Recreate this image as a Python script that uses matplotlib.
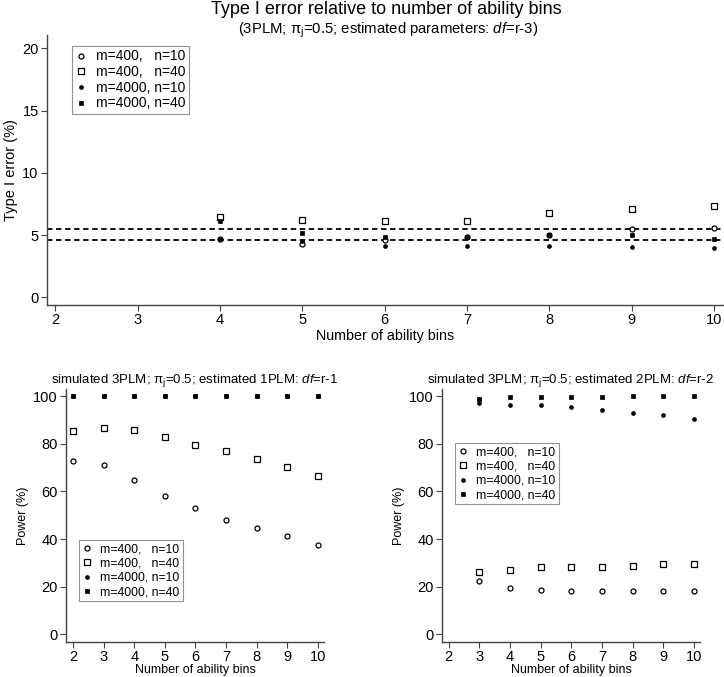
import matplotlib
matplotlib.use("Agg")
import matplotlib.pyplot as plt

plt.rcParams['font.family'] = ['Liberation Sans', 'DejaVu Sans']
plt.rcParams['mathtext.fontset'] = 'custom'
plt.rcParams['mathtext.rm'] = 'Liberation Sans'
plt.rcParams['mathtext.it'] = 'Liberation Sans:italic'

FONT = ['Liberation Sans', 'DejaVu Sans']

# ---- data ----
labels = ["m=400,   n=10", "m=400,   n=40", "m=4000, n=10", "m=4000, n=40"]

# type I error (top)
bins_top = [4, 5, 6, 7, 8, 9, 10]
t_m400_n10 = [4.7, 4.3, 4.6, 4.85, 5.0, 5.49, 5.54]
t_m400_n40 = [6.45, 6.2, 6.1, 6.1, 6.75, 7.1, 7.36]
t_m4000_n10 = [4.7, 4.5, 4.15, 4.15, 4.12, 4.07, 3.94]
t_m4000_n40 = [6.15, 5.2, 4.85, 4.85, 5.0, 5.0, 4.69]
ci_lines = [4.62, 5.48]

# power, estimated 1PLM (bottom left)
bins_1pl = [2, 3, 4, 5, 6, 7, 8, 9, 10]
p1_m400_n10 = [72.8, 71.2, 64.8, 58.1, 52.9, 48.1, 44.5, 41.2, 37.6]
p1_m400_n40 = [85.4, 86.8, 85.6, 82.7, 79.7, 76.9, 73.6, 70.1, 66.6]
p1_m4000_n10 = [100, 100, 100, 100, 100, 100, 100, 100, 100]
p1_m4000_n40 = [100, 100, 100, 100, 100, 100, 100, 100, 100]

# power, estimated 2PLM (bottom right)
bins_2pl = [3, 4, 5, 6, 7, 8, 9, 10]
p2_m400_n10 = [22.3, 19.4, 18.8, 18.0, 18.2, 18.1, 18.2, 18.2]
p2_m400_n40 = [26.1, 27.1, 28.1, 28.1, 28.3, 28.9, 29.5, 29.5]
p2_m4000_n10 = [97.2, 96.1, 96.4, 95.5, 94.2, 93.0, 92.0, 90.5]
p2_m4000_n40 = [98.8, 99.5, 99.7, 99.8, 99.8, 99.9, 99.9, 99.9]

styles = [
    dict(marker='o', mfc='white', mec='black', ms=3.6, mew=0.9),
    dict(marker='s', mfc='white', mec='black', ms=4.4, mew=0.9),
    dict(marker='o', mfc='black', mec='black', ms=2.8, mew=0.5),
    dict(marker='s', mfc='black', mec='black', ms=3.0, mew=0.5),
]

W, H = 724, 677
fig = plt.figure(figsize=(W / 100, H / 100), dpi=100)


def px_axes(x0, y0, x1, y1):
    return fig.add_axes([x0 / W, 1 - y1 / H, (x1 - x0) / W, (y1 - y0) / H])


def style_axes(ax, size):
    for s in ['top', 'right']:
        ax.spines[s].set_visible(False)
    for s in ['left', 'bottom']:
        ax.spines[s].set_color('#444444')
        ax.spines[s].set_linewidth(1.0)
    ax.tick_params(direction='out', length=4, width=0.8, color='#444444',
                   pad=2, labelsize=size)


def add_legend(ax, x, y, size, spacing):
    leg = ax.legend(loc='upper left', bbox_to_anchor=(x / W, 1 - y / H),
                    bbox_transform=fig.transFigure, frameon=True, fancybox=False,
                    edgecolor='#777777', borderpad=0.25, labelspacing=spacing,
                    handlelength=0.8, handletextpad=0.7, borderaxespad=0,
                    prop={'size': size})
    leg.get_frame().set_linewidth(0.8)


# ---- top panel ----
ax = px_axes(47, 35, 723, 305)
for ys, st, lab in zip([t_m400_n10, t_m400_n40, t_m4000_n10, t_m4000_n40], styles, labels):
    ax.plot(bins_top, ys, ls='none', label=lab, **st)
for v in ci_lines:
    ax.axhline(v, color='black', ls=(0, (3, 2)), lw=1.3, zorder=0)
ax.set_xlim(1.898, 10.11)
ax.set_ylim(-0.62, 21.07)
ax.set_xticks(range(2, 11))
ax.set_yticks([0, 5, 10, 15, 20])
style_axes(ax, 10.5)
ax.set_xlabel("Number of ability bins", fontsize=10.3, labelpad=1)
ax.set_ylabel("Type I error (%)", fontsize=10.5, labelpad=3)
add_legend(ax, 72, 46, 10, 0.12)

fig.text(386 / W, 1 - 10 / H, "Type I error relative to number of ability bins",
         ha='center', va='center', fontsize=13)
fig.text(388 / W, 1 - 30 / H,
         r"(3PLM; π$_\mathregular{j}$=0.5; estimated parameters: $\it{df}$=r-3)",
         ha='center', va='center', fontsize=10.7)

# ---- bottom left ----
ax = px_axes(66, 389, 324, 642)
for ys, st, lab in zip([p1_m400_n10, p1_m400_n40, p1_m4000_n10, p1_m4000_n40], styles, labels):
    ax.plot(bins_1pl, ys, ls='none', label=lab, **st)
ax.set_xlim(1.77, 10.2)
ax.set_ylim(-3.2, 103)
ax.set_xticks(range(2, 11))
ax.set_yticks(range(0, 101, 20))
style_axes(ax, 10.5)
ax.set_xlabel("Number of ability bins", fontsize=9, labelpad=0)
ax.set_ylabel("Power (%)", fontsize=9, labelpad=3)
ax.set_title(r"simulated 3PLM; π$_\mathregular{j}$=0.5; estimated 1PLM: $\it{df}$=r-1",
             fontsize=9.5, pad=4)
add_legend(ax, 79, 540, 8.8, 0.2)

# ---- bottom right ----
ax = px_axes(442, 389, 700, 642)
for ys, st, lab in zip([p2_m400_n10, p2_m400_n40, p2_m4000_n10, p2_m4000_n40], styles, labels):
    ax.plot(bins_2pl, ys, ls='none', label=lab, **st)
ax.set_xlim(1.78, 10.2)
ax.set_ylim(-3.2, 103)
ax.set_xticks(range(2, 11))
ax.set_yticks(range(0, 101, 20))
style_axes(ax, 10.5)
ax.set_xlabel("Number of ability bins", fontsize=9, labelpad=0)
ax.set_ylabel("Power (%)", fontsize=9, labelpad=3)
ax.set_title(r"simulated 3PLM; π$_\mathregular{j}$=0.5; estimated 2PLM: $\it{df}$=r-2",
             fontsize=9.5, pad=4)
add_legend(ax, 455, 443, 8.8, 0.2)

fig.savefig("out.png", dpi=100)
